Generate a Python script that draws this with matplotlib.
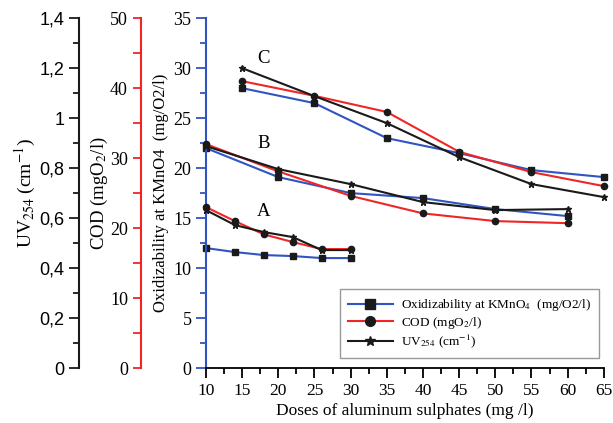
#!/usr/bin/env python3
"""
Coagulation test: oxidizability, COD and UV254 vs. aluminum sulphate dose
Three stacked left axes sharing one plot area
"""

import matplotlib
matplotlib.use("Agg")
import matplotlib.pyplot as plt
from matplotlib.ticker import MultipleLocator

plt.rcParams['font.family'] = ['Liberation Serif', 'DejaVu Serif']
plt.rcParams['mathtext.fontset'] = 'stix'

# ---- data ----
dose_a = [10, 14, 18, 22, 26, 30]
dose_b = [10, 20, 30, 40, 50, 60]
dose_c = [15, 25, 35, 45, 55, 65]

# oxidizability at KMnO4 (mg O2/l)
oxid_a = [12.0, 11.6, 11.3, 11.2, 11.0, 11.0]
oxid_b = [22.0, 19.1, 17.5, 17.0, 15.9, 15.2]
oxid_c = [28.0, 26.5, 23.0, 21.5, 19.8, 19.1]

# COD (mg O2/l)
cod_a = [23.0, 21.0, 19.1, 18.0, 17.0, 17.0]
cod_b = [32.0, 28.1, 24.6, 22.1, 21.0, 20.7]
cod_c = [41.0, 38.9, 36.6, 30.9, 28.0, 26.0]

# UV254 (1/cm)
uv_a = [0.632, 0.572, 0.544, 0.524, 0.472, 0.472]
uv_b = [0.888, 0.796, 0.736, 0.664, 0.632, 0.636]
uv_c = [1.200, 1.088, 0.980, 0.844, 0.736, 0.684]

uv_ticks = [0, 0.2, 0.4, 0.6, 0.8, 1.0, 1.2, 1.4]
uv_ticklabels = ['0', '0,2', '0,4', '0,6', '0,8', '1', '1,2', '1,4']

BLUE = '#3055c2'
RED = '#f02626'
BLACK = '#1a1a1a'

fig = plt.figure(figsize=(6.13, 4.23), dpi=100, facecolor='white')
ax = fig.add_axes([0.336, 0.130, 0.649, 0.827])
ax_cod = ax.twinx()
ax_uv = ax.twinx()

# ---- curves ----
for x, y in [(dose_a, oxid_a), (dose_b, oxid_b), (dose_c, oxid_c)]:
    ax.plot(x, y, color=BLUE, lw=1.5, marker='s', ms=5, mfc=BLACK,
            mec=BLACK, clip_on=False)
for x, y in [(dose_a, cod_a), (dose_b, cod_b), (dose_c, cod_c)]:
    ax_cod.plot(x, y, color=RED, lw=1.5, marker='o', ms=4.5, mfc=BLACK,
                mec=BLACK, clip_on=False)
for x, y in [(dose_a, uv_a), (dose_b, uv_b), (dose_c, uv_c)]:
    ax_uv.plot(x, y, color=BLACK, lw=1.5, marker='*', ms=4.5, mfc=BLACK,
               mec=BLACK, clip_on=False)

# series letters
ax.text(18, 31, 'C', fontsize=13.5, ha='center', va='center')
ax.text(18, 22.5, 'B', fontsize=13.5, ha='center', va='center')
ax.text(18, 15.7, 'A', fontsize=13.5, ha='center', va='center')

# ---- main axis (oxidizability) ----
ax.set_xlim(10, 65)
ax.set_ylim(0, 35)
ax.xaxis.set_major_locator(MultipleLocator(5))
ax.xaxis.set_minor_locator(MultipleLocator(2.5))
ax.yaxis.set_major_locator(MultipleLocator(5))
ax.yaxis.set_minor_locator(MultipleLocator(2.5))
ax.spines['top'].set_visible(False)
ax.spines['right'].set_visible(False)
ax.spines['left'].set_color(BLUE)
ax.spines['left'].set_linewidth(1.5)
ax.spines['bottom'].set_linewidth(1.3)
ax.tick_params(axis='y', which='both', colors=BLUE, labelcolor='black',
               direction='out', labelsize=13, width=1.3)
ax.tick_params(axis='y', which='major', length=7)
ax.tick_params(axis='y', which='minor', length=4)
ax.tick_params(axis='x', which='both', direction='out', labelsize=12.5,
               width=1.3, pad=4)
ax.tick_params(axis='x', which='major', length=7)
ax.tick_params(axis='x', which='minor', length=4)
ax.set_xlabel('Doses of aluminum sulphates (mg /l)', fontsize=12.5, labelpad=3)
ax.set_ylabel('Oxidizability at KMnO4  (mg/O2/l)', fontsize=12, labelpad=3)

# ---- COD axis ----
ax_cod.set_ylim(0, 50)
ax_cod.spines['left'].set_position(('axes', -0.163))
ax_cod.spines['left'].set_visible(True)
ax_cod.spines['left'].set_color(RED)
ax_cod.spines['left'].set_linewidth(1.5)
for s in ['top', 'right', 'bottom']:
    ax_cod.spines[s].set_visible(False)
ax_cod.yaxis.set_ticks_position('left')
ax_cod.yaxis.set_label_position('left')
ax_cod.yaxis.set_major_locator(MultipleLocator(10))
ax_cod.yaxis.set_minor_locator(MultipleLocator(5))
ax_cod.tick_params(axis='y', which='both', colors=RED, labelcolor='black',
                   direction='out', labelsize=13, width=1.3, length=6)
ax_cod.set_ylabel(r'COD (mgO$_2$/l)', fontsize=13.5, labelpad=0)

# ---- UV axis ----
ax_uv.set_ylim(0, 1.4)
ax_uv.spines['left'].set_position(('axes', -0.319))
ax_uv.spines['left'].set_visible(True)
ax_uv.spines['left'].set_color(BLACK)
ax_uv.spines['left'].set_linewidth(1.5)
for s in ['top', 'right', 'bottom']:
    ax_uv.spines[s].set_visible(False)
ax_uv.yaxis.set_ticks_position('left')
ax_uv.yaxis.set_label_position('left')
ax_uv.set_yticks(uv_ticks)
ax_uv.set_yticklabels(uv_ticklabels, family=['Liberation Sans', 'DejaVu Sans'])
ax_uv.yaxis.set_minor_locator(MultipleLocator(0.1))
ax_uv.tick_params(axis='y', which='both', colors=BLACK, labelcolor='black',
                  direction='out', labelsize=13, width=1.3)
ax_uv.tick_params(axis='y', which='major', length=7)
ax_uv.tick_params(axis='y', which='minor', length=4)
ax_uv.set_ylabel(r'UV$_{254}$ (cm$^{-1}$)', fontsize=14, labelpad=1)

# ---- legend ----
handles = [
    plt.Line2D([], [], color=BLUE, lw=1.5, marker='s', ms=7, mfc=BLACK, mec=BLACK),
    plt.Line2D([], [], color=RED, lw=1.5, marker='o', ms=7, mfc=BLACK, mec=BLACK),
    plt.Line2D([], [], color=BLACK, lw=1.5, marker='*', ms=7, mfc=BLACK, mec=BLACK),
]
labels = [r'Oxidizability at KMnO$_4$  (mg/O2/l)', r'COD (mgO$_2$/l)',
          r'UV$_{254}$ (cm$^{-1}$)']
leg = ax_uv.legend(handles, labels, loc='lower right',
                   bbox_to_anchor=(0.987, 0.029), borderaxespad=0,
                   fontsize=9.5, handlelength=3.4, handletextpad=0.6,
                   fancybox=False, framealpha=1, edgecolor='#999999',
                   borderpad=0.6, labelspacing=0.12)
leg.get_frame().set_linewidth(1.0)

fig.savefig('out.png', dpi=100, facecolor='white')
